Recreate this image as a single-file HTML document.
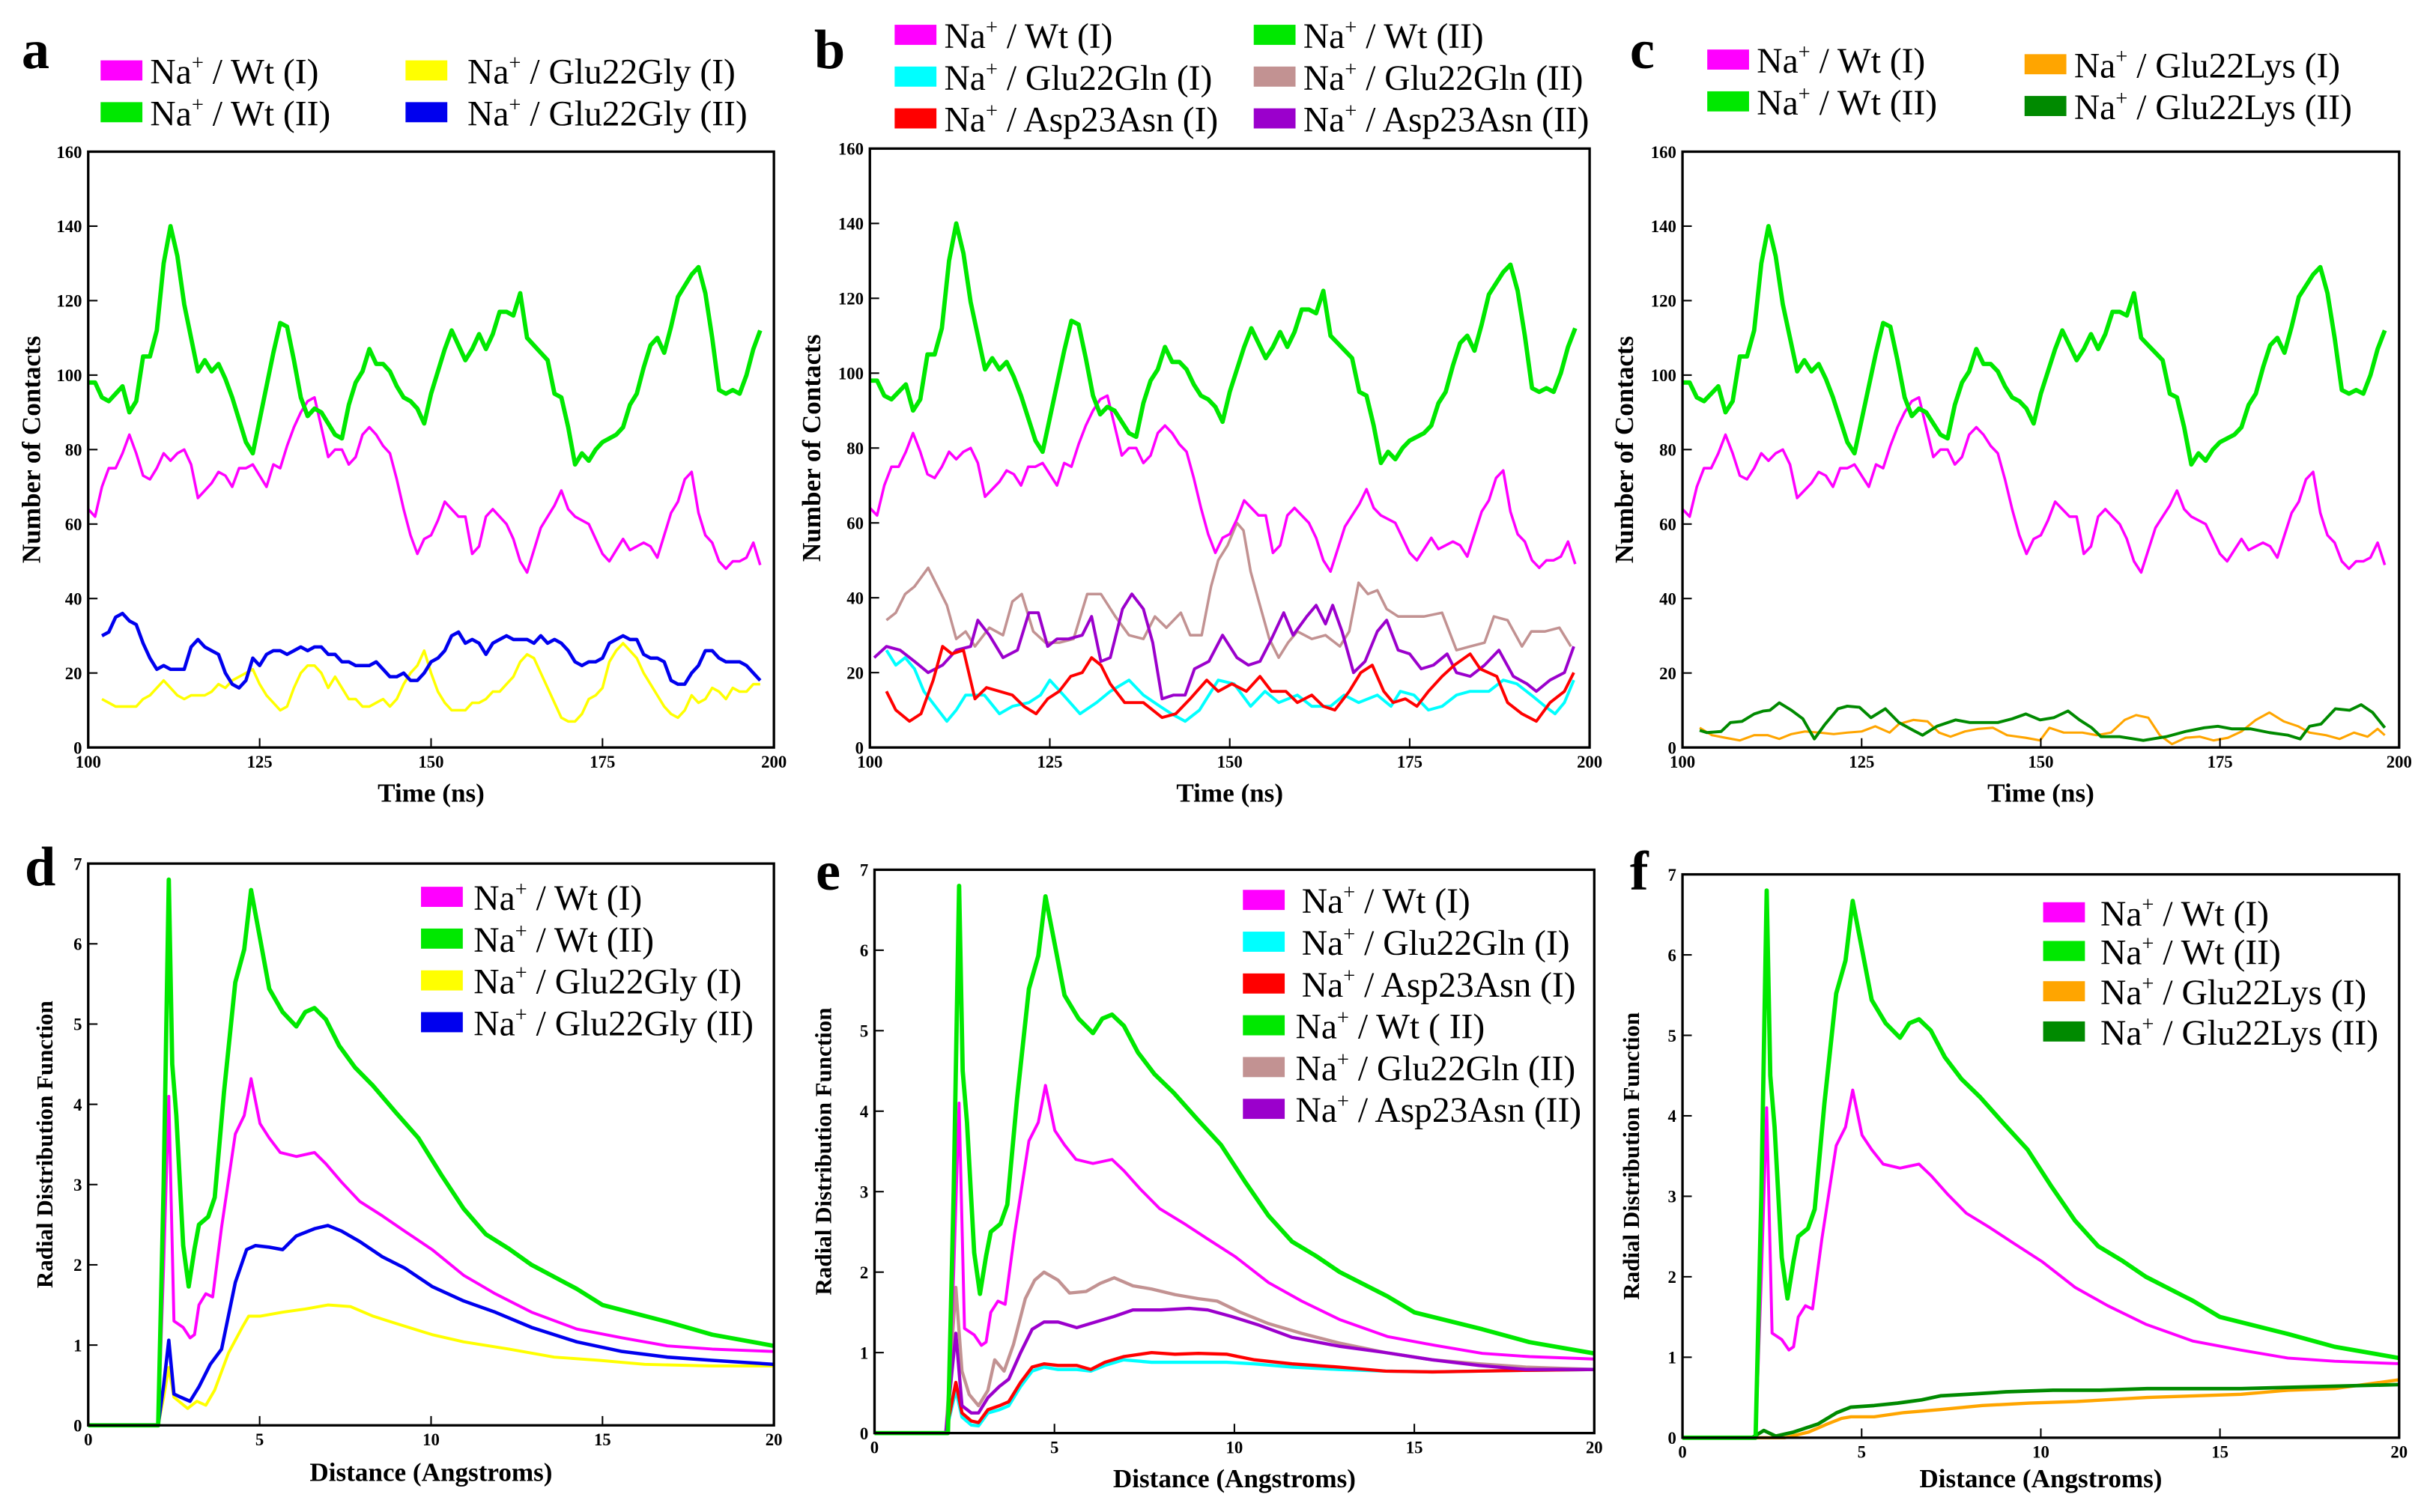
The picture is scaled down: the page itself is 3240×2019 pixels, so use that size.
<!DOCTYPE html>
<html><head><meta charset="utf-8">
<style>
html,body{margin:0;padding:0;background:#fff;}
svg{display:block;}
text{font-family:"Liberation Serif",serif;}
</style></head>
<body>
<svg id="fig" xmlns="http://www.w3.org/2000/svg" width="3240" height="2019" viewBox="0 0 1568 977" preserveAspectRatio="none">
<rect x="0" y="0" width="1568" height="977" fill="#fff"/>
</svg>
<script>
// ---------- time series data (ns, contacts) ----------
const wtI = [64,62,70,75,75,79,84,79,73,72,75,79,77,79,80,76,67,69,71,74,73,70,75,75,76,73,70,76,75,81,86,90,93,94,86,78,80,80,76,78,84,86,84,81,79,72,64,57,52,56,57,61,66,64,62,62,52,54,62,64,62,60,56,50,47,53,59,62,65,69,64,62,61,60,56,52,50,53,56,53,54,55,54,51,57,63,66,72,74,63,57,55,50,48,50,50,51,55,49];
const wtII = [98,98,94,93,95,97,90,93,105,105,112,130,140,132,119,110,101,104,101,103,99,94,88,82,79,88,97,106,114,113,104,94,89,91,90,87,84,83,92,98,101,107,103,103,101,97,94,93,91,87,95,101,107,112,108,104,107,111,107,111,117,117,116,122,110,108,106,104,95,94,86,76,79,77,80,82,83,84,86,92,95,102,108,110,106,113,121,124,127,129,122,110,96,95,96,95,100,107,112];
const glyI = [13,12,11,11,11,11,13,14,16,18,16,14,13,14,14,14,15,17,16,18,19,20,21,17,14,12,10,11,16,20,22,22,20,16,19,16,13,13,11,11,12,13,11,13,17,20,22,26,20,15,12,10,10,10,12,12,13,15,15,17,19,23,25,24,20,16,12,8,7,7,9,13,14,16,23,26,28,26,24,20,17,14,11,9,8,10,14,12,13,16,15,13,16,15,15,17,17];
const glyII = [30,31,35,36,34,33,28,24,21,22,21,21,21,27,29,27,26,25,20,17,16,18,24,22,25,26,26,25,26,27,26,27,27,25,25,23,23,22,22,22,23,21,19,19,20,18,18,20,23,24,26,30,31,28,29,28,25,28,29,30,29,29,29,28,30,28,29,28,26,23,22,23,23,24,28,29,30,29,29,25,24,24,23,18,17,17,20,22,26,26,24,23,23,23,22,20,18];
const glnI_t = [102.3,103.6,104.9,106.2,107.5,109.1,110.7,112,113.3,115.9,118,119.8,122.1,123.7,125,126.9,129.2,131.5,133.4,136,138,140.3,141.9,143.8,145.8,148.4,150.6,152.9,154.9,156.8,159.4,161.4,164,165.9,167.9,170.5,172.4,173.7,175.6,177.6,179.5,181.5,183.4,186,188,189.9,191.9,193.8,195.2,196.5,197.8];
const glnI_v = [26,22,24,21,15,11,7,10,14,14,9,11,12,14,18,14,9,12,15,18,14,11,9,7,10,18,17,11,15,12,14,11,11,14,12,14,11,15,14,10,11,14,15,15,18,17,14,11,9,12,18];
const asnI_t = [102.3,103.6,105.5,107.1,108.8,110.1,111.4,113,114.6,116.2,118,119.8,121.4,123.1,124.7,126.3,127.9,129.5,130.8,132.1,133.4,135.4,138,140.6,142.5,144.5,146.8,148.4,150.3,152.3,154.2,155.8,157.8,159.4,161.4,163,164.6,166.6,168.2,169.8,171.4,172.7,174.4,176,177.6,179.5,181.2,183.4,184.8,187.1,188.6,190.6,192.6,194.5,196.5,197.8];
const asnI_v = [15,10,7,9,18,27,25,26,13,16,15,14,11,9,13,15,19,20,24,22,17,12,12,8,9,13,18,15,17,15,19,15,15,12,14,11,10,15,20,22,15,12,13,11,15,19,22,25,21,19,12,9,7,12,15,20];
const glnII_t = [102.3,103.6,104.9,106.2,108.1,109.4,110.7,112,113.3,114.6,116.6,118.5,119.8,121.1,122.7,124.4,126.3,128.3,130.2,132.1,134.1,136,138,139.6,141.2,143.2,144.5,146.1,147.4,148.4,149.7,151,151.9,152.9,153.9,155.5,156.8,158.1,159.4,161.4,163.3,165.3,166.6,167.9,169.2,170.5,171.8,173.4,175,177,179.5,181.5,183.4,185.4,186.7,188.6,190.6,191.9,193.8,195.8,197.4];
const glnII_v = [34,36,41,43,48,43,38,29,31,27,32,30,39,41,31,28,28,29,41,41,35,30,29,35,32,36,30,30,43,50,54,60,58,47,40,29,24,28,31,29,30,27,31,44,41,42,37,35,35,35,36,26,27,28,35,34,27,31,31,32,27];
const aspII_t = [100.6,102.3,104.2,106.2,108.1,110.1,112,114,115,116.6,118.5,120.5,122.1,123.4,124.7,126,127.6,129.5,130.8,132.1,133.4,135.1,136.4,138,139.3,140.6,142.2,143.8,145.1,147.1,149,151,152.6,154.2,155.8,157.5,158.8,160.7,162,163.3,164.3,165.6,167.2,168.8,170.5,171.8,173.4,175,176.6,178.3,180.2,181.5,183.4,185.4,187.4,189.4,191.3,192.6,194.5,196.5,197.8];
const aspII_v = [24,27,26,23,20,22,26,27,34,30,24,26,36,36,27,29,29,30,35,23,24,37,41,37,28,13,14,14,21,23,30,24,22,23,29,36,30,35,38,33,38,31,20,23,31,34,26,25,21,22,25,20,19,22,26,19,17,15,18,20,27];
const lysI_t = [102.4,104.1,106,108,110,111.9,113.5,115.2,117.1,119.1,121.1,123,125,126.9,128.9,130.2,132.2,134.2,135.8,137.4,139.4,141.3,143.3,145.3,147.9,149.9,151.2,153.2,155.8,157.8,159.8,161.7,163.3,165,166.6,168.3,170.2,172.2,174.1,176.1,178,180,181.9,183.9,185.9,187.5,189.8,191.7,193.7,195.6,197,198];
const lysI_v = [5.3,3.3,2.6,1.9,3.3,3.3,2.3,3.6,4.3,4,3.6,4,4.3,5.7,4,6.3,7.4,7,4,2.9,4.3,5,5.3,3.3,2.6,1.9,5.3,4,4,3.3,4,7.4,8.7,8,3.3,0.9,2.6,2.9,1.9,2.6,4.3,7.4,9.4,7,5.7,4,3.3,2.3,4,2.9,5,3.3];
const lysII_t = [102.4,103.4,105.4,106.7,108.3,110,111.3,112.2,113.5,115.2,116.8,118.4,119.8,121.7,123,124.7,126.3,128.3,130.2,132.2,133.5,135.5,138.1,140.1,142,144,146,147.9,149.9,151.8,153.8,155.4,157.1,158.4,161,164.3,167.5,170.2,172.8,174.7,176.7,179.3,181.9,184.5,186.2,187.5,189.1,191.1,193.1,194.7,196.3,198];
const lysII_v = [4.6,4,4.3,6.7,7,9,9.8,10,12,10,7.7,2.3,6,10.4,11.1,10.8,8,10.4,6.7,4.6,3.3,5.7,7.4,6.7,6.7,6.7,7.7,9,7.4,8,9.8,7.4,5.3,2.9,2.9,1.9,2.9,4.3,5.3,5.7,5,5,4,3.3,2.3,5.7,6.3,10.4,10,11.5,9.4,5.3];
// ---------- RDF data (Angstrom, g(r)) ----------
const rdfWtI_r = [0,2.04,2.2,2.35,2.5,2.77,2.97,3.1,3.23,3.43,3.63,3.89,4.29,4.55,4.75,5.01,5.28,5.6,6.07,6.6,6.93,7.39,7.92,8.58,9.23,10.03,10.95,11.87,12.93,14.25,15.57,16.89,18.2,20];
const rdfWtI_g = [0,0,2,4.1,1.3,1.22,1.09,1.13,1.5,1.64,1.6,2.47,3.63,3.86,4.32,3.76,3.58,3.4,3.35,3.4,3.26,3.03,2.79,2.61,2.42,2.19,1.87,1.64,1.41,1.2,1.09,0.99,0.95,0.92];
const rdfWtII_r = [0,2.04,2.2,2.35,2.45,2.57,2.77,2.93,3.1,3.23,3.5,3.69,3.96,4.29,4.55,4.75,5.01,5.28,5.67,6.07,6.33,6.6,6.93,7.32,7.78,8.31,8.97,9.63,10.3,10.95,11.6,12.27,12.93,14.25,15,16.89,18.2,20];
const rdfWtII_g = [0,0,3,6.8,4.5,3.86,2.24,1.73,2.2,2.5,2.6,2.84,4.15,5.52,5.93,6.67,6.07,5.44,5.15,4.97,5.15,5.2,5.06,4.73,4.46,4.23,3.9,3.58,3.12,2.7,2.38,2.2,2.0,1.7,1.5,1.29,1.13,0.99];
const rdfGlyI_r = [0,2.04,2.2,2.35,2.5,2.9,3.17,3.43,3.69,4.09,4.49,4.68,5.01,5.67,6.33,6.99,7.65,8.31,8.97,10.03,10.95,12.27,13.59,14.91,16.23,18.2,20];
const rdfGlyI_g = [0,0,0.35,0.72,0.35,0.21,0.3,0.25,0.44,0.9,1.22,1.36,1.36,1.41,1.45,1.5,1.48,1.36,1.27,1.13,1.04,0.95,0.85,0.81,0.76,0.74,0.74];
const rdfGlyII_r = [0,2.04,2.2,2.35,2.5,2.7,2.97,3.23,3.56,3.89,4.29,4.62,4.88,5.28,5.67,6.07,6.6,6.99,7.39,7.92,8.58,9.23,10.03,10.95,11.87,12.93,14.25,15.57,16.89,18.2,20];
const rdfGlyII_g = [0,0,0.5,1.06,0.39,0.35,0.3,0.48,0.76,0.95,1.78,2.19,2.24,2.22,2.19,2.36,2.45,2.49,2.42,2.29,2.1,1.96,1.73,1.55,1.41,1.22,1.04,0.92,0.85,0.81,0.76];
const rdfGlnII_r = [0,1.98,2.26,2.43,2.63,2.89,3.15,3.34,3.6,3.86,4.19,4.45,4.71,5.1,5.42,5.88,6.27,6.66,7.18,7.7,8.35,9.0,9.52,10.17,10.95,11.86,12.9,14.2,15.5,16.8,18.1,20];
const rdfGlnII_g = [0,0,1.81,0.77,0.48,0.34,0.53,0.91,0.77,1.1,1.67,1.9,2.0,1.9,1.74,1.76,1.86,1.93,1.83,1.79,1.72,1.67,1.64,1.5,1.36,1.24,1.12,1.0,0.91,0.86,0.82,0.79];
const rdfAspII_r = [0,1.98,2.26,2.43,2.69,2.89,3.15,3.47,3.73,4.06,4.38,4.71,5.1,5.62,6.14,6.66,7.18,7.96,8.74,9.26,9.91,10.69,11.6,12.9,14.2,15.5,16.8,18.1,20];
const rdfAspII_g = [0,0,1.24,0.34,0.25,0.25,0.44,0.58,0.67,1.0,1.29,1.38,1.38,1.31,1.38,1.45,1.53,1.53,1.55,1.53,1.45,1.34,1.19,1.08,1.0,0.91,0.84,0.79,0.79];
const rdfAsnI_r = [0,1.98,2.26,2.43,2.69,2.89,3.15,3.47,3.73,4.06,4.38,4.71,5.1,5.62,6.01,6.4,6.92,7.7,8.35,9.0,9.78,10.56,11.6,12.9,14.2,15.5,16.8,18.1,20];
const rdfAsnI_g = [0,0,0.63,0.25,0.15,0.13,0.29,0.34,0.39,0.63,0.82,0.86,0.84,0.84,0.79,0.88,0.95,1.0,0.98,0.99,0.98,0.91,0.86,0.82,0.77,0.76,0.77,0.78,0.79];
const rdfGlnI_r = [0,1.98,2.26,2.43,2.69,2.89,3.15,3.47,3.73,4.06,4.38,4.71,5.1,5.62,6.01,6.4,6.92,7.7,8.35,9.0,9.78,10.56,11.6,12.9,14.2,15.5,16.8,18.1,20];
const rdfGlnI_g = [0,0,0.53,0.2,0.1,0.09,0.25,0.29,0.34,0.58,0.77,0.82,0.79,0.79,0.77,0.84,0.91,0.88,0.88,0.88,0.88,0.86,0.82,0.79,0.77,0.76,0.77,0.78,0.79];
const rdfLysI_r = [0,2.86,3.52,4.04,4.44,4.7,5.35,6.14,7.2,8.37,9.68,11,12.97,14.28,15.59,16.9,18.2,20];
const rdfLysI_g = [0,0,0.07,0.17,0.24,0.26,0.26,0.31,0.35,0.4,0.43,0.45,0.5,0.52,0.54,0.59,0.61,0.72];
const rdfLysII_r = [0,1.94,2.27,2.6,3.1,3.78,4.3,4.7,5.35,6.0,6.67,7.2,7.98,9.03,10.34,11.65,12.97,15.59,18.2,20];
const rdfLysII_g = [0,0,0.09,0.02,0.07,0.17,0.31,0.38,0.4,0.43,0.47,0.52,0.54,0.57,0.59,0.59,0.61,0.61,0.64,0.66];
// ---------- ticks ----------
const timeTicks = [100,125,150,175,200];
const contactTicks = [0,20,40,60,80,100,120,140,160];
const distTicks = [0,5,10,15,20];
const rdfTicks = [0,1,2,3,4,5,6,7];

const C = {mag:'#ff00ff', grn:'#00e800', yel:'#ffff00', blu:'#0000ee', cya:'#00ffff', red:'#ff0000', brn:'#c29292', pur:'#9b00cc', org:'#ffa500', dgr:'#008a00'};
const NS = 'http://www.w3.org/2000/svg';
const svg = document.getElementById('fig');
function el(tag, attrs, parent){const e=document.createElementNS(NS,tag);for(const k in attrs)e.setAttribute(k,attrs[k]);(parent||svg).appendChild(e);return e;}
function seqT(start,n){const a=[];for(let i=0;i<n;i++)a.push(start+i);return a;}

function makePanel(p){
  const g = el('g',{});
  
  
  const sx = v => p.x0 + (v-p.xmin)/(p.xmax-p.xmin)*(p.x1-p.x0);
  const sy = v => p.y1 - (v-p.ymin)/(p.ymax-p.ymin)*(p.y1-p.y0);
  p.series.forEach(s=>{
    const n=Math.min(s.x.length,s.y.length);
    let d='';
    for(let i=0;i<n;i++) d+=(i?'L':'M')+sx(s.x[i]).toFixed(2)+' '+sy(s.y[i]).toFixed(2);
    const path = el('path',{d:d,fill:'none',stroke:s.c,'stroke-width':s.w||1.7,'stroke-linejoin':'round'},g);
    
    
  });
  const fr = el('rect',{x:p.x0,y:p.y0,width:p.x1-p.x0,height:p.y1-p.y0,fill:'none',stroke:'#000','stroke-width':1.6},g);
  
  
  p.xt.forEach(v=>{
    const X=sx(v);
    const t=el('line',{x1:X,x2:X,y1:p.y1,y2:p.y1-6,stroke:'#000','stroke-width':1},g);
    
    
    const lb=el('text',{x:X,y:p.y1+13,'text-anchor':'middle','font-size':11,'font-weight':'bold'},g);
    lb.textContent=v;
    
    
  });
  p.yt.forEach(v=>{
    const Y=sy(v);
    const t=el('line',{x1:p.x0,x2:p.x0+6,y1:Y,y2:Y,stroke:'#000','stroke-width':1},g);
    
    
    const lb=el('text',{x:p.x0-4,y:Y+4,'text-anchor':'end','font-size':11,'font-weight':'bold'},g);
    lb.textContent=v;
    
    
  });
  const xt=el('text',{x:(p.x0+p.x1)/2,y:p.xtY,'text-anchor':'middle','font-size':17,'font-weight':'bold'},g);
  xt.textContent=p.xtitle;
  
  
  const ytx=p.ytX, yty=(p.y0+p.y1)/2;
  const yt=el('text',{x:ytx,y:yty,'text-anchor':'middle','font-size':p.ytSize,'font-weight':'bold',transform:'rotate(-90 '+ytx+' '+yty+')'},g);
  yt.textContent=p.ytitle;
  
  
  const lt=el('text',{x:p.letter[0],y:p.letter[1],'font-size':36,'font-weight':'bold'},g);
  lt.textContent=p.id;
  
  
  p.legend.forEach(L=>{
    const sw=el('rect',{x:L.x,y:L.y-7,width:27,height:13,fill:L.c},g);
    
    
    const tx=el('text',{x:L.x+L.dx,y:L.y+8,'font-size':p.lfs},g);
    
    
    const a=document.createElementNS(NS,'tspan');a.textContent='Na';tx.appendChild(a);
    const b=document.createElementNS(NS,'tspan');b.textContent='+';b.setAttribute('font-size',p.lfs*0.6);b.setAttribute('dy',-9);tx.appendChild(b);
    const c=document.createElementNS(NS,'tspan');c.textContent=' / '+L.t;c.setAttribute('dy',9);tx.appendChild(c);
  });
}

const tAll = seqT(100, wtI.length);
const tGly = seqT(102, glyI.length);
const topBase = {xmin:100,xmax:200,ymin:0,ymax:160,xt:timeTicks,yt:contactTicks,xtitle:'Time (ns)',ytitle:'Number of Contacts',ytSize:17,lfs:23};
const botBase = {xmin:0,xmax:20,ymin:0,ymax:7,xt:distTicks,yt:rdfTicks,xtitle:'Distance (Angstroms)',ytitle:'Radial Distribution Function',ytSize:15,lfs:23};

makePanel(Object.assign({},topBase,{id:'a',x0:57,x1:500,y0:98,y1:483,xtY:518,ytX:26,letter:[14,44],
  series:[{x:tGly,y:glyI,c:C.yel,name:'glu22gly-i-line'},{x:tGly,y:glyII,c:C.blu,w:2.2,name:'glu22gly-ii-line'},
          {x:tAll,y:wtI,c:C.mag,name:'wt-i-line'},{x:tAll,y:wtII,c:C.grn,w:2.8,name:'wt-ii-line'}],
  legend:[{x:65,y:46,dx:32,c:C.mag,t:'Wt (I)'},{x:65,y:73,dx:32,c:C.grn,t:'Wt (II)'},
          {x:262,y:46,dx:40,c:C.yel,t:'Glu22Gly (I)'},{x:262,y:73,dx:40,c:C.blu,t:'Glu22Gly (II)'}]}));

makePanel(Object.assign({},topBase,{id:'b',x0:562,x1:1027,y0:96,y1:483,xtY:518,ytX:530,letter:[526,44],
  series:[{x:glnII_t,y:glnII_v,c:C.brn,name:'glu22gln-ii-line'},{x:aspII_t,y:aspII_v,c:C.pur,w:1.9,name:'asp23asn-ii-line'},
          {x:glnI_t,y:glnI_v,c:C.cya,w:1.9,name:'glu22gln-i-line'},{x:asnI_t,y:asnI_v,c:C.red,w:1.9,name:'asp23asn-i-line'},
          {x:tAll,y:wtI,c:C.mag,name:'wt-i-line'},{x:tAll,y:wtII,c:C.grn,w:2.8,name:'wt-ii-line'}],
  legend:[{x:578,y:23,dx:32,c:C.mag,t:'Wt (I)'},{x:578,y:50,dx:32,c:C.cya,t:'Glu22Gln (I)'},{x:578,y:77,dx:32,c:C.red,t:'Asp23Asn (I)'},
          {x:810,y:23,dx:32,c:C.grn,t:'Wt (II)'},{x:810,y:50,dx:32,c:C.brn,t:'Glu22Gln (II)'},{x:810,y:77,dx:32,c:C.pur,t:'Asp23Asn (II)'}]}));

makePanel(Object.assign({},topBase,{id:'c',x0:1087,x1:1550,y0:98,y1:483,xtY:518,ytX:1055,letter:[1053,44],
  series:[{x:lysI_t,y:lysI_v,c:C.org,w:1.5,name:'glu22lys-i-line'},{x:lysII_t,y:lysII_v,c:C.dgr,w:1.9,name:'glu22lys-ii-line'},
          {x:tAll,y:wtI,c:C.mag,name:'wt-i-line'},{x:tAll,y:wtII,c:C.grn,w:2.8,name:'wt-ii-line'}],
  legend:[{x:1103,y:39,dx:32,c:C.mag,t:'Wt (I)'},{x:1103,y:66,dx:32,c:C.grn,t:'Wt (II)'},
          {x:1308,y:42,dx:32,c:C.org,t:'Glu22Lys (I)'},{x:1308,y:69,dx:32,c:C.dgr,t:'Glu22Lys (II)'}]}));

makePanel(Object.assign({},botBase,{id:'d',x0:57,x1:500,y0:558,y1:921,xtY:957,ytX:34,letter:[16,572],
  series:[{x:rdfGlyI_r,y:rdfGlyI_g,c:C.yel,w:1.9,name:'rdf-glu22gly-i'},{x:rdfGlyII_r,y:rdfGlyII_g,c:C.blu,w:2.2,name:'rdf-glu22gly-ii'},
          {x:rdfWtI_r,y:rdfWtI_g,c:C.mag,w:1.9,name:'rdf-wt-i'},{x:rdfWtII_r,y:rdfWtII_g,c:C.grn,w:2.8,name:'rdf-wt-ii'}],
  legend:[{x:272,y:580,dx:34,c:C.mag,t:'Wt (I)'},{x:272,y:607,dx:34,c:C.grn,t:'Wt (II)'},
          {x:272,y:634,dx:34,c:C.yel,t:'Glu22Gly (I)'},{x:272,y:661,dx:34,c:C.blu,t:'Glu22Gly (II)'}]}));

makePanel(Object.assign({},botBase,{id:'e',x0:565,x1:1030,y0:562,y1:926,xtY:961,ytX:537,letter:[527,575],
  series:[{x:rdfGlnI_r,y:rdfGlnI_g,c:C.cya,w:2.1,name:'rdf-glu22gln-i'},{x:rdfAsnI_r,y:rdfAsnI_g,c:C.red,w:2.1,name:'rdf-asp23asn-i'},
          {x:rdfGlnII_r,y:rdfGlnII_g,c:C.brn,w:2.1,name:'rdf-glu22gln-ii'},{x:rdfAspII_r,y:rdfAspII_g,c:C.pur,w:2.1,name:'rdf-asp23asn-ii'},
          {x:rdfWtI_r,y:rdfWtI_g,c:C.mag,w:1.9,name:'rdf-wt-i'},{x:rdfWtII_r,y:rdfWtII_g,c:C.grn,w:2.8,name:'rdf-wt-ii'}],
  legend:[{x:803,y:582,dx:38,c:C.mag,t:'Wt (I)'},{x:803,y:609,dx:38,c:C.cya,t:'Glu22Gln (I)'},{x:803,y:636,dx:38,c:C.red,t:'Asp23Asn (I)'},
          {x:803,y:663,dx:34,c:C.grn,t:'Wt ( II)'},{x:803,y:690,dx:34,c:C.brn,t:'Glu22Gln (II)'},{x:803,y:717,dx:34,c:C.pur,t:'Asp23Asn (II)'}]}));

makePanel(Object.assign({},botBase,{id:'f',x0:1087,x1:1550,y0:565,y1:929,xtY:961,ytX:1059,letter:[1053,575],
  series:[{x:rdfLysI_r,y:rdfLysI_g,c:C.org,w:2.1,name:'rdf-glu22lys-i'},{x:rdfLysII_r,y:rdfLysII_g,c:C.dgr,w:2.3,name:'rdf-glu22lys-ii'},
          {x:rdfWtI_r,y:rdfWtI_g,c:C.mag,w:1.9,name:'rdf-wt-i'},{x:rdfWtII_r,y:rdfWtII_g,c:C.grn,w:2.8,name:'rdf-wt-ii'}],
  legend:[{x:1320,y:590,dx:37,c:C.mag,t:'Wt (I)'},{x:1320,y:615,dx:37,c:C.grn,t:'Wt (II)'},
          {x:1320,y:641,dx:37,c:C.org,t:'Glu22Lys (I)'},{x:1320,y:667,dx:37,c:C.dgr,t:'Glu22Lys (II)'}]}));
</script>
</body></html>
